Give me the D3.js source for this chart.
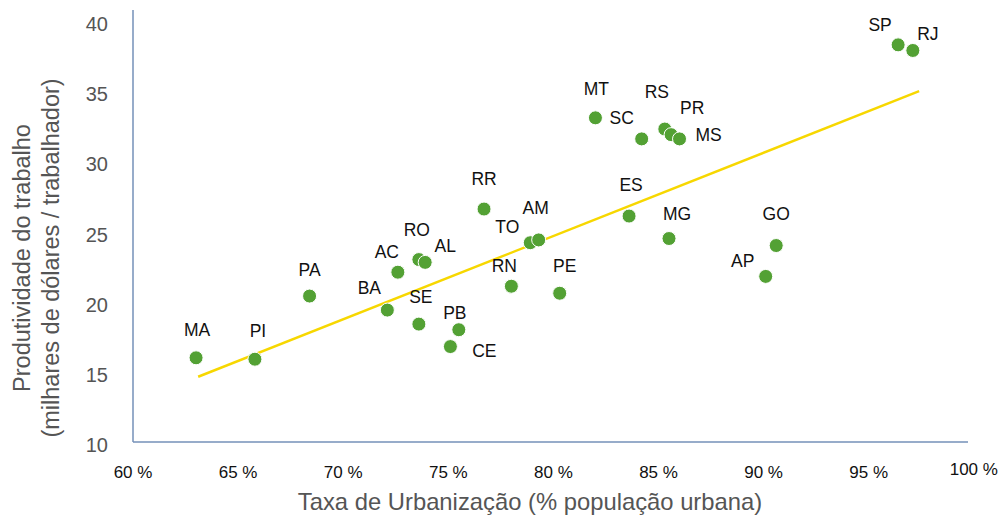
<!DOCTYPE html>
<html>
<head>
<meta charset="utf-8">
<script src="https://cdn.jsdelivr.net/npm/d3@7"></script>
<style>
  body { margin: 0; background: #fff; }
  svg { font-family: "Liberation Sans", Arial, sans-serif; }
</style>
</head>
<body>
<div id="chart"></div>
<script>
var states = ["MA","PI","PA","BA","AC","RO","AL","SE","PB","CE","RR","TO","AM","RN","PE",
              "MT","SC","RS","PR","MS","ES","MG","AP","GO","SP","RJ"];
var urbanizacao = [63.0, 65.8, 68.4, 72.1, 72.6, 73.6, 73.9, 73.6, 75.5, 75.1, 76.7, 78.9, 79.3, 78.0, 80.3,
                   82.0, 84.2, 85.3, 85.6, 86.0, 83.6, 85.5, 90.1, 90.6, 96.4, 97.1];
var produtividade = [16.0, 15.9, 20.4, 19.4, 22.1, 23.0, 22.8, 18.4, 18.0, 16.8, 26.6, 24.2, 24.4, 21.1, 20.6,
                     33.1, 31.6, 32.3, 31.9, 31.6, 26.1, 24.5, 21.8, 24.0, 38.3, 37.9];
var trendX = [63.1, 97.4];
var trendY = [14.65, 35.0];
var xTicks = [60, 65, 70, 75, 80, 85, 90, 95, 100];
var yTicks = [10, 15, 20, 25, 30, 35, 40];

// label offsets (px) from each point
var labelPos = {
  MA:[1,-28], PI:[3,-28], PA:[0,-26], BA:[-18,-22], AC:[-11,-20], RO:[-2,-30], AL:[20,-16],
  SE:[2,-27], PB:[-4,-17], CE:[34,4], RR:[0,-30], TO:[-23,-16], AM:[-3,-32], RN:[-7,-20],
  PE:[5,-27], MT:[1,-29], SC:[-20,-21], RS:[-8,-37], PR:[21,-27], MS:[29,-4], ES:[2,-31],
  MG:[8,-25], AP:[-23,-15], GO:[0,-32], SP:[-18,-20], RJ:[15,-16]
};

var data = states.map(function(s, i) {
  return {name: s, x: urbanizacao[i], y: produtividade[i]};
});

var width = 1005, height = 517;

var x = d3.scaleLinear().domain([60, 100]).range([133, 973.8]);
var y = d3.scaleLinear().domain([10, 40]).range([442, 21]);

var svg = d3.select('#chart').append('svg')
    .attr('width', width)
    .attr('height', height);

// axes lines
svg.append('line')
    .attr('x1', x(60)).attr('x2', x(60))
    .attr('y1', 10).attr('y2', y(10))
    .attr('stroke', '#7591b9').attr('stroke-width', 1.5);
svg.append('line')
    .attr('x1', x(60)).attr('x2', 968)
    .attr('y1', y(10)).attr('y2', y(10))
    .attr('stroke', '#7591b9').attr('stroke-width', 1.5);

// y tick labels
svg.append('g').selectAll('text')
    .data(yTicks)
  .enter().append('text')
    .attr('x', 108)
    .attr('y', function(d) { return y(d) + 3; })
    .attr('text-anchor', 'end')
    .attr('dominant-baseline', 'central')
    .attr('fill', '#555')
    .style('font-size', '20px')
    .text(function(d) { return d; });

// x tick labels
svg.append('g').selectAll('text')
    .data(xTicks)
  .enter().append('text')
    .attr('x', function(d) { return x(d); })
    .attr('y', function(d) { return d === 100 ? 469 : 472; })
    .attr('text-anchor', 'middle')
    .attr('dominant-baseline', 'central')
    .attr('fill', '#111')
    .style('font-size', '17px')
    .text(function(d) { return d + ' %'; });

// axis titles
svg.append('text')
    .attr('x', 530)
    .attr('y', 501)
    .attr('text-anchor', 'middle')
    .attr('dominant-baseline', 'central')
    .attr('fill', '#555')
    .style('font-size', '23.8px')
    .text('Taxa de Urbanização (% população urbana)');

var yTitle = svg.append('text')
    .attr('transform', 'translate(22,258) rotate(-90)')
    .attr('text-anchor', 'middle')
    .attr('fill', '#555')
    .style('font-size', '23.5px');
yTitle.append('tspan').attr('x', 0).attr('dy', '0.35em').text('Produtividade do trabalho');
yTitle.append('tspan').attr('x', 0).attr('dy', '1.24em').text('(milhares de dólares / trabalhador)');

// trend line
svg.append('line')
    .attr('x1', x(trendX[0])).attr('y1', y(trendY[0]))
    .attr('x2', x(trendX[1])).attr('y2', y(trendY[1]))
    .attr('stroke', '#f7d700').attr('stroke-width', 2.5);

// points
svg.append('g').selectAll('circle')
    .data(data)
  .enter().append('circle')
    .attr('cx', function(d) { return x(d.x); })
    .attr('cy', function(d) { return y(d.y); })
    .attr('r', 7)
    .attr('fill', '#53a134')
    .attr('stroke', '#fff')
    .attr('stroke-width', 1);

// labels
svg.append('g').selectAll('text')
    .data(data)
  .enter().append('text')
    .attr('x', function(d) { return x(d.x) + labelPos[d.name][0]; })
    .attr('y', function(d) { return y(d.y) + labelPos[d.name][1]; })
    .attr('text-anchor', 'middle')
    .attr('dominant-baseline', 'central')
    .attr('fill', '#111')
    .style('font-size', '17.5px')
    .text(function(d) { return d.name; });
</script>
</body>
</html>
